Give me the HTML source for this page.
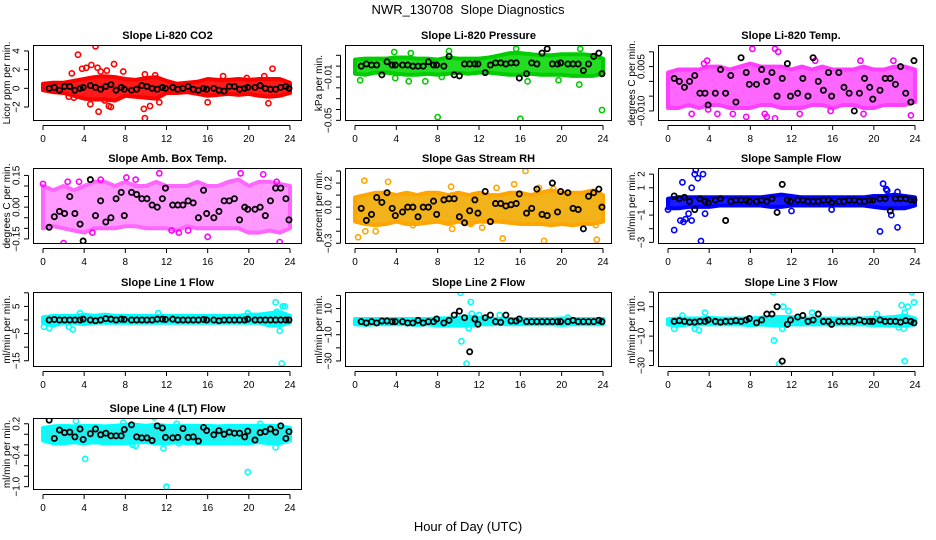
<!DOCTYPE html>
<html><head><meta charset="utf-8"><style>
html,body{margin:0;padding:0;background:#fff;}
svg{display:block;font-family:"Liberation Sans",sans-serif;}
</style></head><body>
<svg id="chart" width="936" height="540" viewBox="0 0 936 540" xmlns="http://www.w3.org/2000/svg">
<text x="468" y="14" text-anchor="middle" font-size="13">NWR_130708&#160; Slope Diagnostics</text>
<text x="468" y="531" text-anchor="middle" font-size="13">Hour of Day (UTC)</text>
</svg>
<script>
const H = [0.6,1.1,1.6,2.1,2.6,3.1,3.6,3.9,4.6,5.1,5.6,6.1,6.6,7.1,7.6,7.9,8.6,9.1,9.6,10.1,10.6,11.1,11.6,11.9,12.6,13.1,13.6,14.1,14.6,15.1,15.6,15.9,16.6,17.1,17.6,18.1,18.6,19.1,19.6,19.9,20.6,21.1,21.6,22.1,22.6,23.1,23.6,23.9];
const bandHours = [0,1,2,3,4,5,6,7,8,9,10,11,12,13,14,15,16,17,18,19,20,21,22,23,24];
const xTicks = [0,4,8,12,16,20,24];

// Panel 1 CO2
const co2Hi = [0.5,0.6,0.6,0.8,1.0,1.2,1.3,1.2,1.0,0.9,1.1,1.2,0.8,0.5,0.6,0.7,1.0,0.9,0.9,1.0,0.9,1.0,1.0,1.0,0.6];
const co2Lo = [-0.2,-0.4,-0.5,-0.8,-1.1,-1.2,-1.2,-1.3,-0.8,-0.9,-1.0,-1.1,-0.5,-0.5,-0.4,-0.6,-0.8,-0.7,-0.6,-0.7,-0.6,-0.8,-0.9,-0.8,-0.5];
const co2OutX = [3.4,4.2,3.8,2.8,4.7,5.1,5.3,5.6,6.9,7.8,5.4,6.4,6.6,4.6,6.0,9.9,9.8,10.4,10.9,9.9,16.0,17.5,19.8,21.9,22.3,21.5,3.0,2.5,11.3,6.2];
const co2OutY = [3.6,2.2,2.1,1.6,2.5,4.5,2.2,1.8,2.6,1.8,-2.5,-1.9,-2.0,-1.7,-1.3,-3.2,-2.2,-1.9,1.4,1.5,-1.5,1.3,1.1,-1.6,2.1,1.3,-1.0,-0.9,-1.5,1.9];
const co2Black = [0,0.1,-0.2,0.2,0.2,-0.2,0,0.1,0.3,0.1,-0.1,0.2,0.4,-0.2,0.1,-0.1,-0.2,-0.1,0.3,0.2,0,-0.1,0.1,0,0.1,-0.1,0,0.2,-0.1,-0.2,0,-0.1,0,-0.2,-0.3,0.2,0.2,-0.1,0,0.1,0.1,0.3,0,-0.1,-0.1,0.1,0.2,0];
const co2Ticks = [-2,0,2,4];
const co2Labels = ["\u22122","0","2","4"];

// Panel 2 Pressure
const prHi = [0.006,0.007,0.007,0.007,0.008,0.008,0.007,0.007,0.006,0.008,0.007,0.007,0.007,0.008,0.010,0.012,0.012,0.011,0.010,0.010,0.011,0.011,0.011,0.010,0.007];
const prLo = [-0.007,-0.008,-0.006,-0.006,-0.007,-0.008,-0.008,-0.007,-0.008,-0.007,-0.006,-0.007,-0.006,-0.006,-0.007,-0.008,-0.008,-0.007,-0.008,-0.008,-0.008,-0.009,-0.009,-0.009,-0.007];
const prOutX = [8.0,16.0,23.9,9.1,5.4,3.8,0.5,21.8,15.6,21.7,16.7,19.7,3.9,5.2,6.8,8.4];
const prOutY = [-0.047,-0.0485,-0.0405,0.014,0.012,0.013,-0.013,0.016,0.016,-0.017,-0.014,-0.013,-0.011,-0.014,-0.014,-0.010];
const prBlack = [0.000,0.002,0.001,0.001,-0.008,0.004,0.001,0.001,0.001,0.001,0.000,0.000,0.000,0.004,0.001,0.001,0.000,0.009,-0.008,-0.009,0.002,0.002,0.002,0.002,-0.006,0.001,0.003,0.003,0.002,0.003,0.003,-0.011,-0.007,0.003,0.002,0.012,0.016,0.002,0.002,0.003,0.002,0.002,0.002,-0.004,0.002,0.009,0.012,-0.007];
const prTicks = [0.01,0,-0.01,-0.02,-0.03,-0.04,-0.05];
const prLabels = ["","","\u22120.01","","","","\u22120.05"];

// Panel 3 Temp
const tHi = [0.003,0.004,0.004,0.004,0.005,0.005,0.004,0.005,0.006,0.005,0.005,0.005,0.004,0.005,0.004,0.005,0.004,0.004,0.004,0.005,0.004,0.004,0.005,0.005,0.004];
const tLo = [-0.009,-0.009,-0.008,-0.009,-0.008,-0.008,-0.009,-0.009,-0.009,-0.008,-0.008,-0.009,-0.009,-0.009,-0.008,-0.008,-0.009,-0.008,-0.008,-0.009,-0.009,-0.008,-0.008,-0.008,-0.007];
const tOutX = [8.2,10.4,10.7,7.6,9.6,9.4,10.4,2.3,3.9,4.8,15.8,19.0,18.7,21.9,23.6,12.8,6.3,3.5,3.8,14.3];
const tOutY = [0.011,0.011,0.010,-0.012,-0.012,-0.011,-0.0125,-0.011,-0.0095,-0.011,-0.010,-0.011,0.007,0.007,-0.0115,-0.011,-0.011,0.006,0.007,0.007];
const tBlack = [0.001,0,-0.002,0,0.002,-0.004,-0.004,-0.008,-0.004,0.004,-0.004,0.002,-0.007,0.008,0.003,-0.001,-0.001,0.004,0,0.003,-0.005,0.001,0.006,-0.005,-0.004,0.001,-0.005,0.008,0,-0.003,0.003,-0.005,0.003,-0.002,-0.004,-0.010,-0.004,0.001,-0.002,-0.006,-0.003,0.001,0.001,-0.001,0.005,-0.004,-0.007,0.007];
const tTicks = [0.010,0.005,0,-0.005,-0.010];
const tLabels = ["","0.005","","","\u22120.010"];

// Panel 4 Amb box temp
const aHi = [0.10,0.08,0.10,0.08,0.10,0.12,0.12,0.10,0.12,0.10,0.10,0.12,0.10,0.10,0.10,0.12,0.10,0.10,0.12,0.13,0.10,0.12,0.12,0.11,0.10];
const aLo = [-0.10,-0.09,-0.10,-0.11,-0.12,-0.10,-0.10,-0.10,-0.09,-0.09,-0.10,-0.10,-0.10,-0.11,-0.09,-0.10,-0.10,-0.10,-0.10,-0.10,-0.12,-0.12,-0.11,-0.12,-0.10];
const aOutX = [2.0,11.3,19.2,21.4,23.0,16.0,12.5,13.2,3.5,0,5.6,8.1,14.1,4.8,22.7,2.4,9.0];
const aOutY = [-0.17,0.16,0.16,0.155,-0.165,-0.14,-0.11,-0.12,0.12,0.11,0.13,0.14,-0.11,-0.12,0.12,0.12,0.13];
const aBlack = [-0.095,-0.045,-0.02,-0.03,0.05,-0.03,-0.08,-0.16,0.13,-0.04,0.03,-0.07,-0.05,0.04,0.07,-0.04,0.07,0.06,0.04,0.04,0.01,0.0,0.04,0.09,0.01,0.01,0.01,0.03,0.02,-0.05,0.08,-0.03,-0.05,-0.02,0.03,0.03,0.04,-0.06,0.0,-0.01,-0.01,0.0,-0.04,0.03,0.09,0.09,0.04,-0.06];
const aTicks = [0.15,0.10,0.05,0,-0.05,-0.10,-0.15];
const aLabels = ["0.15","","","0.00","","","\u22120.15"];

// Panel 5 RH
const rhHi = [0.08,0.10,0.12,0.12,0.10,0.12,0.10,0.12,0.12,0.10,0.12,0.10,0.12,0.10,0.10,0.12,0.12,0.10,0.12,0.14,0.12,0.12,0.12,0.14,0.10];
const rhLo = [-0.12,-0.14,-0.15,-0.14,-0.12,-0.14,-0.14,-0.13,-0.12,-0.14,-0.12,-0.14,-0.12,-0.12,-0.12,-0.13,-0.14,-0.14,-0.14,-0.15,-0.14,-0.15,-0.14,-0.14,-0.12];
const rhOutX = [0.3,0.9,3.2,1.0,2.0,9.3,9.4,14.3,15.4,16.5,18.3,23.4,23.3,13.7,12.3,17.8,5.6,11.2,19.2];
const rhOutY = [-0.25,0.22,0.21,-0.2,-0.2,0.17,-0.18,-0.26,0.19,0.3,-0.28,-0.27,-0.15,0.16,-0.17,0.16,-0.15,-0.14,0.15];
const rhBlack = [-0.01,-0.11,-0.06,0.08,0.04,0.12,-0.01,-0.07,-0.04,0.0,0.0,-0.08,0.0,0.0,0.05,-0.06,0.06,0.07,0.07,-0.08,-0.13,-0.03,0.06,-0.05,0.13,-0.12,0.03,0.03,0.01,0.02,0.03,0.11,-0.05,-0.01,0.15,-0.06,-0.07,0.20,-0.04,0.13,0.12,-0.01,-0.02,-0.18,0.09,0.12,0.15,0.0];
const rhTicks = [0.3,0.2,0.1,0,-0.1,-0.2,-0.3];
const rhLabels = ["","0.2","","0.0","","","\u22120.3"];

// Panel 6 Sample flow
const sfHi = [0.2,0.3,0.3,0.3,0.3,0.3,0.3,0.3,0.3,0.3,0.4,0.5,0.4,0.3,0.3,0.3,0.3,0.3,0.3,0.3,0.4,0.4,0.5,0.4,0.3];
const sfLo = [-0.5,-0.5,-0.4,-0.4,-0.4,-0.3,-0.3,-0.3,-0.3,-0.3,-0.4,-0.4,-0.3,-0.3,-0.3,-0.3,-0.3,-0.3,-0.3,-0.3,-0.4,-0.5,-0.5,-0.5,-0.3];
const sfOutX = [2.7,2.6,3.4,2.9,1.4,2.3,0.6,3.2,3.6,1.2,1.5,2.3,2.0,1.7,20.6,20.9,21.2,21.3,22.3,22.3,21.7,15.9,0,12.0];
const sfOutY = [2.3,2.0,2.0,1.7,1.4,1.0,-2.1,-2.9,-0.9,-1.4,-1.5,-1.4,-0.9,-1.3,-2.2,1.3,0.9,0.8,-1.9,0.7,-1.0,-0.6,-0.6,-0.7];
const sfBlack = [0.4,0.2,0.3,0.0,-0.6,0.2,0.0,-0.1,0.1,0.2,-1.4,0.0,0.1,0.1,0.1,0.0,0.0,0.1,0.0,0.2,-0.8,1.25,0.1,0.0,0.1,0.1,0.0,0.0,0.0,0.1,0.1,-0.1,0.0,0.0,0.1,0.1,0.0,0.0,0.1,0.1,0.2,0.2,-0.7,0.2,0.2,0.2,0.1,0.1];
const sfTicks = [2,1,0,-1,-2,-3];
const sfLabels = ["2","1","","\u22121","","\u22123"];

// Panel 7 Line 1
const l1Hi = [1,1.5,1.5,1.5,2,1.5,2,1.5,1.5,1.5,1.5,1.5,1.5,1.5,1.5,1.5,1.5,1.5,1.5,1.5,2,2,2.5,3,1.5];
const l1Lo = [-1,-2,-1,-1,-1.5,-1,-1,-1,-1,-1,-1,-1,-1,-1,-1,-1,-1,-1,-1,-1,-1,-1,-2,-2,-1];
const l1OutX = [0.1,0.6,2.5,2.9,3.6,23.1,22.6,23.3,23.5,23.0,23.2,22.7,19.9,11.2];
const l1OutY = [-2.5,-3,-2.5,-3.5,2.5,11,6.5,5,5,-4,-16,3,2.5,2.5];
const l1Black = [0,0.2,0,0,0,0,0,0.3,0,-0.3,0,0.5,0.3,0,0.3,0.2,0,0,0,0,0,0.3,0.3,0.2,0.3,0,0,0,0,0,0.2,0,0,-0.3,0,0,0,0,0,0.3,0,0,0,0,0,0,0,0];
const l1Ticks = [10,5,0,-5,-10,-15];
const l1Labels = ["","5","","\u22125","","\u221215"];

// Panel 8 Line 2
const l2Hi = [2,2,2,2,2,2,2,2,2.5,2.5,3,4,3,2,2,2,2,2,2,2,2.5,2,2,2,2];
const l2Lo = [-2,-2.5,-2,-2,-2,-2,-2.5,-2,-3,-3,-3,-3,-2,-2,-2,-2,-2,-2,-2,-2,-2.5,-2,-2,-2,-2];
const l2OutX = [10.2,11.2,10.3,11.0,10.8,11.3,14.0,12.0,20.6,10.5];
const l2OutY = [22,15,-15,-5,-32,6,5,5,3,3];
const l2Black = [0,-1,0,-1,0.5,0.5,0,0,0,-1,-1,1,-1,0,0,2,-1,1,5,8,3,-23,2,-2,3,5,0,-0.5,5,0.5,0.5,2,0,0,0,0,0,0,0,0,0,1,0,0,0,0,1,0];
const l2Ticks = [20,10,0,-10,-20,-30];
const l2Labels = ["","10","","\u221210","","\u221230"];

// Panel 9 Line 3
const l3Hi = [1.5,2,2,2,2.5,2,2,2,2,2.5,3,3,3,2,2,2,2,2,2,2,2.5,2.5,3,4,2];
const l3Lo = [-2,-3,-2,-2,-2,-2,-2,-2,-2.5,-2,-2.5,-3,-2,-2,-2,-2,-2,-2,-2,-2,-2.5,-2.5,-3,-3,-2];
const l3OutX = [10.2,10.8,10.3,11.1,11.2,23.7,23.9,23.3,22.7,23.0,23.0,22.4,22.9,0.6,3.0,2.6,3.6,1.4,11.7,14.0,20.3];
const l3OutY = [20,-29,-13,-5,10,20,13,10,11,6,-27,-4,-5,-5,-6,-5,6,4,7,6,5];
const l3Black = [0,0.5,0,-0.5,-0.5,0,0,1,0,-0.5,0,0,0.5,0,1,2,-1,1,5,5,10,-27,-2,1,3,4,0,1,5,0,0,-2,0,0,0,0,1,0,0,0,1,0,0,0,-0.5,0.5,0,-1];
const l3Ticks = [20,10,0,-10,-20,-30];
const l3Labels = ["","10","","\u221210","","\u221230"];

// Panel 10 Line 4
const l4Hi = [0.12,0.15,0.16,0.15,0.16,0.16,0.15,0.16,0.18,0.18,0.16,0.18,0.16,0.16,0.16,0.16,0.16,0.15,0.16,0.16,0.16,0.16,0.16,0.16,0.12];
const l4Lo = [-0.12,-0.17,-0.17,-0.15,-0.17,-0.15,-0.17,-0.17,-0.17,-0.15,-0.15,-0.17,-0.17,-0.15,-0.17,-0.17,-0.17,-0.17,-0.17,-0.17,-0.17,-0.15,-0.17,-0.17,-0.12];
const l4OutX = [3.2,4.1,10.8,11.7,12.0,19.9,21.1,22.6,9.0,13.0,13.2,7.8,8.7];
const l4OutY = [0.25,-0.47,0.32,-0.27,-1.0,-0.72,0.2,-0.25,-0.22,0.2,-0.17,0.22,-0.2];
const l4Black = [0.27,-0.08,0.08,0.03,0.04,-0.05,0.1,-0.1,0.01,0.1,-0.01,0.02,-0.03,-0.03,-0.03,0.09,0.18,-0.05,-0.07,-0.07,-0.12,0.16,0.12,-0.06,-0.07,-0.06,0.11,-0.06,-0.05,-0.13,0.13,0.07,-0.01,0.07,0.0,0.04,0.02,0.02,-0.05,0.06,-0.11,0.03,0.05,0.1,0.04,0.16,-0.08,0.05];
const l4Ticks = [0.2,0,-0.2,-0.4,-0.6,-0.8,-1.0];
const l4Labels = ["0.2","","","\u22120.4","","","\u22121.0"];

const panels = [
 {name:"co2",title:"Slope Li-820 CO2",ylab:"Licor ppm per min.",col:0,row:0,dom:[-3.5,4.64],color:"#ff0000",fill:"#ff1a1a",op:1,hi:co2Hi,lo:co2Lo,ox:co2OutX,oy:co2OutY,bk:co2Black,ticks:co2Ticks,labels:co2Labels},
 {name:"pressure",title:"Slope Li-820 Pressure",ylab:"kPa per min.",col:1,row:0,dom:[-0.0506,0.0195],color:"#00cc00",fill:"#22dd22",op:1,hi:prHi,lo:prLo,ox:prOutX,oy:prOutY,bk:prBlack,ticks:prTicks,labels:prLabels},
 {name:"temp",title:"Slope Li-820 Temp.",ylab:"degrees C per min.",col:2,row:0,dom:[-0.0134,0.0123],color:"#ff00ff",fill:"#ff33ff",op:0.75,hi:tHi,lo:tLo,ox:tOutX,oy:tOutY,bk:tBlack,ticks:tTicks,labels:tLabels},
 {name:"amb-box-temp",title:"Slope Amb. Box Temp.",ylab:"degrees C per min.",col:0,row:1,dom:[-0.174,0.185],color:"#ff00ff",fill:"#ff55ff",op:0.6,hi:aHi,lo:aLo,ox:aOutX,oy:aOutY,bk:aBlack,ticks:aTicks,labels:aLabels},
 {name:"gas-stream-rh",title:"Slope Gas Stream RH",ylab:"percent per min.",col:1,row:1,dom:[-0.306,0.325],color:"#ffa500",fill:"#f2b21a",op:1,hi:rhHi,lo:rhLo,ox:rhOutX,oy:rhOutY,bk:rhBlack,ticks:rhTicks,labels:rhLabels},
 {name:"sample-flow",title:"Slope Sample Flow",ylab:"ml/min per min.",col:2,row:1,dom:[-3.12,2.45],color:"#0000ff",fill:"#1a1aff",op:1,hi:sfHi,lo:sfLo,ox:sfOutX,oy:sfOutY,bk:sfBlack,ticks:sfTicks,labels:sfLabels},
 {name:"line1-flow",title:"Slope Line 1 Flow",ylab:"ml/min per min.",col:0,row:2,dom:[-17.3,10.3],color:"#00ffff",fill:"#22eeee",op:1,hi:l1Hi,lo:l1Lo,ox:l1OutX,oy:l1OutY,bk:l1Black,ticks:l1Ticks,labels:l1Labels},
 {name:"line2-flow",title:"Slope Line 2 Flow",ylab:"ml/min per min.",col:1,row:2,dom:[-34.6,22.6],color:"#00ffff",fill:"#22eeee",op:1,hi:l2Hi,lo:l2Lo,ox:l2OutX,oy:l2OutY,bk:l2Black,ticks:l2Ticks,labels:l2Labels},
 {name:"line3-flow",title:"Slope Line 3 Flow",ylab:"ml/min per min.",col:2,row:2,dom:[-31,20],color:"#00ffff",fill:"#22eeee",op:1,hi:l3Hi,lo:l3Lo,ox:l3OutX,oy:l3OutY,bk:l3Black,ticks:l3Ticks,labels:l3Labels},
 {name:"line4-flow",title:"Slope Line 4 (LT) Flow",ylab:"ml/min per min.",col:0,row:3,dom:[-1.063,0.31],color:"#00ffff",fill:"#22eeee",op:1,hi:l4Hi,lo:l4Lo,ox:l4OutX,oy:l4OutY,bk:l4Black,ticks:l4Ticks,labels:l4Labels}
];

const COLS = [{l:33,r:302,x0:43,x24:290},{l:345,r:612,x0:355,x24:603},{l:658,r:924,x0:668,x24:915}];
const ROWS = [{t:45,b:121},{t:168,b:244},{t:292,b:367},{t:418,b:490}];
const NS = "http://www.w3.org/2000/svg";
const svg = document.getElementById("chart");
function mk(tag, attrs, parent){const e=document.createElementNS(NS,tag);for(const k in attrs)e.setAttribute(k,attrs[k]);(parent||svg).appendChild(e);return e;}

panels.forEach(p=>{
  const c=COLS[p.col], r=ROWS[p.row];
  const g=mk("g",{});
  
  
  const xs=h=>c.x0+h*(c.x24-c.x0)/24;
  const ys=v=>r.b-(v-p.dom[0])/(p.dom[1]-p.dom[0])*(r.b-r.t);
  const clip=mk("clipPath",{id:"clip-"+p.name},g);
  mk("rect",{x:c.l,y:r.t,width:c.r-c.l,height:r.b-r.t},clip);
  const data=mk("g",{"clip-path":"url(#clip-"+p.name+")"},g);
  let pts=[];
  bandHours.forEach((h,i)=>pts.push(xs(h).toFixed(1)+","+ys(p.hi[i]).toFixed(1)));
  for(let i=bandHours.length-1;i>=0;i--)pts.push(xs(bandHours[i]).toFixed(1)+","+ys(p.lo[i]).toFixed(1));
  const band=mk("polygon",{points:pts.join(" "),fill:p.fill,stroke:p.color,"stroke-width":4,"stroke-linejoin":"round",opacity:p.op},data);
  
  
  p.ox.forEach((x,i)=>{
    const o=mk("circle",{cx:xs(x),cy:ys(p.oy[i]),r:2.6,fill:"none",stroke:p.color,"stroke-width":1.6},data);
    
    
  });
  H.forEach((x,i)=>{
    const b=mk("circle",{cx:xs(x),cy:ys(p.bk[i]),r:2.6,fill:"none",stroke:"#000","stroke-width":1.8},data);
    
    
  });
  const box=mk("rect",{x:c.l+0.5,y:r.t+0.5,width:c.r-c.l-1,height:r.b-r.t-1,fill:"none",stroke:"#000","stroke-width":1},g);
  
  
  const t=mk("text",{x:(c.l+c.r)/2,y:r.t-6,"text-anchor":"middle","font-size":11,"font-weight":"bold"},g);
  t.textContent=p.title;
  
  
  const xa=mk("g",{},g);
  
  
  mk("line",{x1:xs(xTicks[0]),x2:xs(xTicks[xTicks.length-1]),y1:r.b+4.5,y2:r.b+4.5,stroke:"#000"},xa);
  xTicks.forEach(h=>{
    mk("line",{x1:xs(h),x2:xs(h),y1:r.b+4.5,y2:r.b+9,stroke:"#000"},xa);
    const tl=mk("text",{x:xs(h),y:r.b+21,"text-anchor":"middle","font-size":10},xa);
    tl.textContent=h;
    
    
  });
  const ya=mk("g",{},g);
  
  
  const ax=c.l-4.5;
  mk("line",{x1:ax,x2:ax,y1:ys(p.ticks[0]),y2:ys(p.ticks[p.ticks.length-1]),stroke:"#000"},ya);
  p.ticks.forEach((v,i)=>{
    const yy=ys(v);
    mk("line",{x1:ax-4.5,x2:ax,y1:yy,y2:yy,stroke:"#000"},ya);
    if(p.labels[i]){
      const tl=mk("text",{x:ax-9,y:yy,"text-anchor":"middle","font-size":10,transform:"rotate(-90 "+(ax-9)+" "+yy+")"},ya);
      tl.textContent=p.labels[i];
      
      
    }
  });
  const yl=mk("text",{x:c.l-23,y:(r.t+r.b)/2,"text-anchor":"middle","font-size":10,transform:"rotate(-90 "+(c.l-23)+" "+((r.t+r.b)/2)+")"},g);
  yl.textContent=p.ylab;
  
  
});
</script>
</body></html>
